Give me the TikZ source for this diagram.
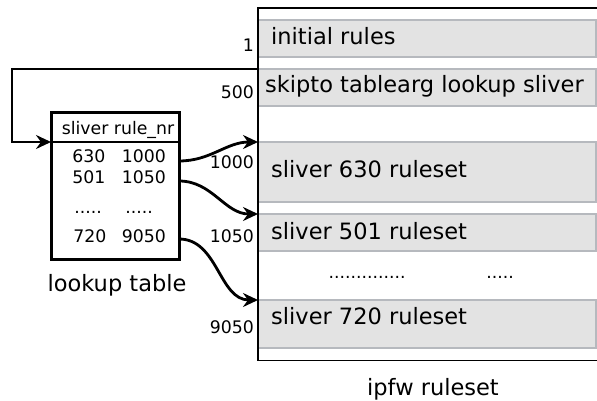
\documentclass[tikz,border=0pt]{standalone}
\usepackage{fontspec}
\setmainfont{DejaVu Sans}
\usetikzlibrary{arrows.meta}

\definecolor{bandline}{RGB}{182,185,190}
\definecolor{bandfill}{RGB}{227,227,227}

\tikzset{
  big/.style={font=\fontsize{22.5}{26}\selectfont, inner sep=0pt},
  small/.style={font=\fontsize{17.3}{20}\selectfont, inner sep=0pt},
  band/.style={draw=bandline, fill=bandfill, line width=2.4pt},
  link/.style={line width=2.8pt, -{Stealth[length=15pt, width=14pt, inset=5pt]}},
  tablebox/.style={draw=black, line width=3pt, fill=white},
}

\begin{document}
\begin{tikzpicture}[x=1pt, y=-1pt]
  \useasboundingbox (0,0) rectangle (597,401);

  % ruleset frame (open towards the right)
  \draw[line width=1.5pt] (597,8) -- (258,8) -- (258,360.5) -- (597,360.5);

  % rule bands
  \draw[band] (258,20)  rectangle (596,57);
  \draw[band] (258,69)  rectangle (596,106);
  \draw[band] (258,142) rectangle (596,202);
  \draw[band] (258,214) rectangle (596,251);
  \draw[band] (258,300) rectangle (596,348);
  \draw[line width=1.5pt] (258,8) -- (258,360.5);

  % band anchors on the frame
  \coordinate (skip) at (258,69);
  \coordinate (r1000) at (258,142);
  \coordinate (r1050) at (258,214);
  \coordinate (r9050) at (258,300);

  % band texts
  \node[big, anchor=base west] (tinit) at (271,45) {initial rules};
  \node[big, anchor=base west] (tskip) at (265,93) {skipto tablearg lookup sliver};
  \node[big, anchor=base west] (t630) at (271,178) {sliver 630 ruleset};
  \node[big, anchor=base west] (t501) at (271,239) {sliver 501 ruleset};
  \node[big, anchor=base west] (t720) at (271,324) {sliver 720 ruleset};
  \node[small, anchor=base] (mdots) at (367,278) {..............};
  \node[small, anchor=base] (rdots) at (500,278) {.....};
  \node[big, anchor=base] (tipfw) at (433,395) {ipfw ruleset};

  % rule numbers
  \node[small, anchor=base east] (n1) at (254,52) {1};
  \node[small, anchor=base east] (n500) at (254,99) {500};
  \node[small, anchor=base east] (n1000) at (254,168) {1000};
  \node[small, anchor=base east] (n1050) at (254,242) {1050};
  \node[small, anchor=base east] (n9050) at (254,333) {9050};

  % lookup table
  \draw[tablebox] (51,113) rectangle (179,259);
  \draw[line width=2.6pt] (51,142) -- (179,142);
  \coordinate (tin) at (51,142);
  \node[small, anchor=base] (hdr) at (118,135) {sliver rule\_nr};
  \node[small, anchor=base] (a1) at (89,163) {630};
  \node[small, anchor=base] (b1) at (144,163) {1000};
  \node[small, anchor=base] (a2) at (89,183) {501};
  \node[small, anchor=base] (b2) at (144,183) {1050};
  \node[small, anchor=base] (a3) at (88,213) {.....};
  \node[small, anchor=base] (b3) at (139,213) {.....};
  \node[small, anchor=base] (a4) at (90,242) {720};
  \node[small, anchor=base] (b4) at (144,242) {9050};
  \node[big, anchor=base] (tlook) at (117,291) {lookup table};

  \coordinate (o1) at (179,161);
  \coordinate (o2) at (179,181);
  \coordinate (o3) at (179,239);

  % skipto jumps into the table
  \draw[link] (skip) -- (12,69) -- (12,142) -- (tin);

  % table entries point at their rulesets
  \draw[link] (o1) to[out=0, in=180] (r1000);
  \draw[link] (o2) to[out=0, in=180] (r1050);
  \draw[link] (o3) to[out=0, in=180] (r9050);
\end{tikzpicture}
\end{document}
